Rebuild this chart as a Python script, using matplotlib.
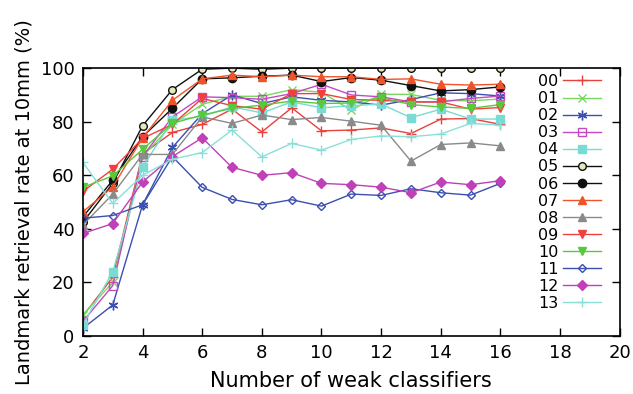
import numpy as np
import matplotlib
matplotlib.use("Agg")
import matplotlib.pyplot as plt

# number of weak classifiers
n_weak = [2, 3, 4, 5, 6, 7, 8, 9, 10, 11, 12, 13, 14, 15, 16]

labels = ["00", "01", "02", "03", "04", "05", "06",
          "07", "08", "09", "10", "11", "12", "13"]

# retrieval rate (%) per landmark
lm00 = [7.5, 22, 68, 76, 79, 84.7, 76.2, 85.2, 76.6, 76.9, 77.7, 75.6, 81, 81.2, 79]
lm01 = [8, 20, 67, 79, 86.5, 89.5, 89.5, 92, 91, 84.3, 90.3, 90.2, 88, 87.8, 88.5]
lm02 = [2.9, 11.6, 49, 70.4, 83, 90, 86.8, 89.3, 88, 87.4, 86.2, 88.3, 90.8, 90.5, 89.6]
lm03 = [5.5, 18.8, 67, 81.8, 89.3, 89, 88.4, 90.5, 94, 90, 89.3, 87.4, 87.4, 88.7, 89.6]
lm04 = [4.3, 24, 63, 80.5, 82, 85.6, 83.3, 87.4, 85.2, 86, 86.6, 81.5, 84.7, 81, 81]
lm05 = [42.5, 57, 78.5, 92, 99.6, 100, 99.6, 100, 100, 100, 100, 100, 100, 100, 100]
lm06 = [44.5, 58.2, 74.4, 85, 96, 96.4, 97, 97.4, 95, 96.5, 95.5, 93.5, 91.5, 92, 93]
lm07 = [46.4, 55.7, 74, 88, 96, 97.4, 96.8, 97.4, 96.8, 96.8, 95.8, 96, 94, 93.7, 94]
lm08 = [41.5, 53, 67.8, 67.8, 81.8, 79.4, 82.5, 80.8, 81.6, 80.2, 78.7, 65.3, 71.5, 72.1, 71]
lm09 = [54, 62.3, 73.8, 79, 88.7, 86, 84.7, 90.5, 90.5, 88.3, 88, 87.4, 87.4, 84.7, 85.3]
lm10 = [55.5, 59.8, 69.7, 79.4, 82.5, 85, 86.2, 87.7, 86.8, 87, 89, 86.4, 85.5, 85, 86.4]
lm11 = [44, 45, 49, 67, 55.5, 51, 49, 50.9, 48.5, 53, 52.5, 55, 53.5, 52.6, 57]
lm12 = [38.3, 42, 57.5, 67, 74, 63, 60, 61, 57, 56.5, 55.6, 53.5, 57.5, 56.5, 58]
lm13 = [64.8, 49.5, 60, 66, 68.5, 76.9, 66.9, 71.9, 69.4, 73.4, 74.7, 74.4, 75.4, 79.4, 78.7]

series = [lm00, lm01, lm02, lm03, lm04, lm05, lm06,
          lm07, lm08, lm09, lm10, lm11, lm12, lm13]

colors = ["#e8413c", "#7ad860", "#3a4fb0", "#c04cc0", "#78dcd4", "#101010", "#101010",
          "#f0522a", "#8a8a8a", "#f0403c", "#5ac83c", "#3a4fb0", "#c040b8", "#88e0d8"]
markers = ["+", "x", (6, 2, 0), "s", "s", "o", "o",
           "^", "^", "v", "v", "D", "D", "+"]
filled = [True, True, True, False, True, False, True,
          True, True, True, True, False, True, True]
msizes = [7, 6, 7, 6, 6, 5.5, 6, 5.5, 5.5, 5.5, 5.5, 4.5, 5, 7]

fig = plt.figure(figsize=(6.33, 3.94), dpi=100)
ax = fig.add_axes([0.131, 0.147, 0.848, 0.680])

for lab, y, c, m, f, ms in zip(labels, series, colors, markers, filled, msizes):
    face = c if f else "none"
    if lab == "05":
        face = "#e8e8c0"
    ax.plot(n_weak, y, color=c, marker=m, markersize=ms, linewidth=1.0,
            markerfacecolor=face, markeredgecolor=c, markeredgewidth=1.0,
            label=lab)

ax.set_xlim(2, 20)
ax.set_ylim(0, 100)
ax.set_xticks(np.arange(2, 21, 2))
ax.set_yticks(np.arange(0, 101, 20))
ax.tick_params(direction="in", top=True, right=True, length=6, width=1,
               labelsize=13, pad=6)
for s in ax.spines.values():
    s.set_linewidth(1.2)

ax.set_xlabel("Number of weak classifiers", fontsize=15, labelpad=6)
ax.set_ylabel("Landmark retrieval rate at 10mm (%)", fontsize=14, labelpad=5)

ax.legend(loc="upper right", bbox_to_anchor=(0.966, 0.978), frameon=False,
          markerfirst=False, fontsize=11.5, handlelength=2.4,
          labelspacing=0.13, handletextpad=0.3, borderpad=0,
          borderaxespad=0)

fig.savefig("out.png", dpi=100)
